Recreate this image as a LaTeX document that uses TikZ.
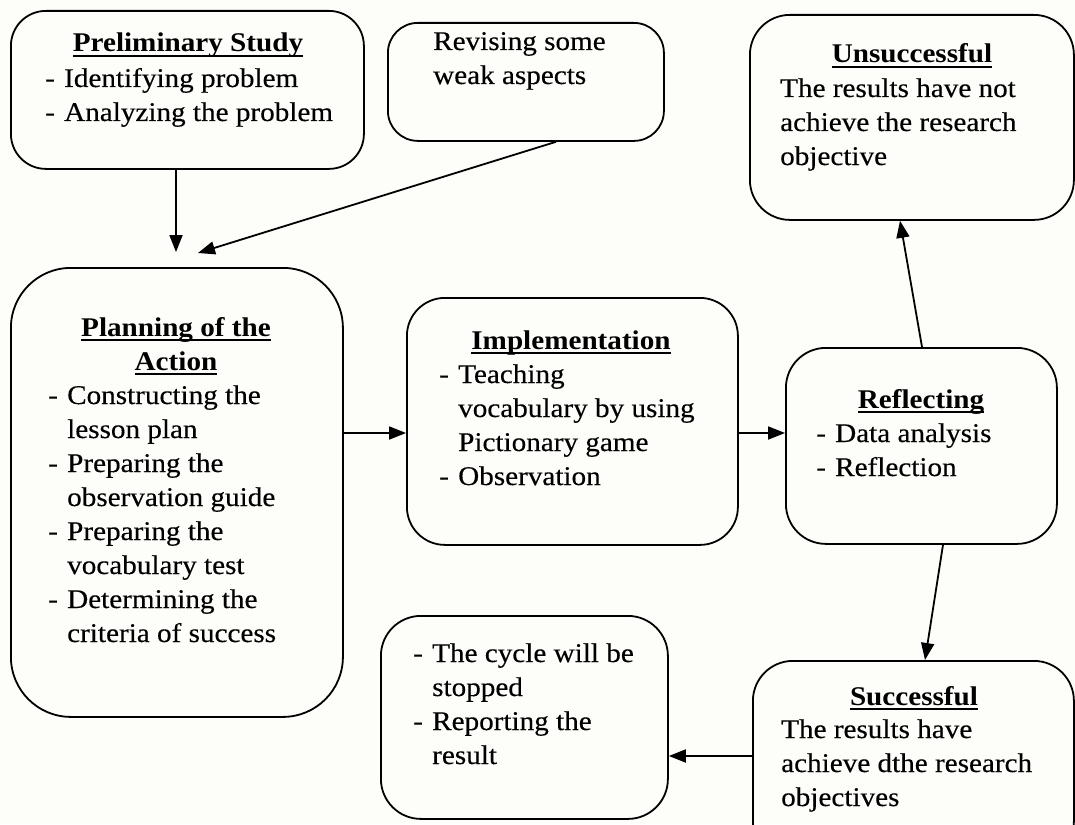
\documentclass[tikz,border=0pt]{standalone}
\usepackage{fontspec}
\setmainfont{Liberation Serif}[FakeStretch=1.08, UprightFeatures={FakeBold=0.3}]
\usetikzlibrary{arrows.meta}
\newcommand{\ttl}[1]{\setbox0\hbox{\bfseries #1}\rlap{\rule[-5pt]{\wd0}{1.8pt}}\box0}
\newcommand{\itm}{\makebox[19pt][l]{-}}
\newcommand{\cnt}{\hspace*{19pt}}
\definecolor{bgc}{RGB}{253,253,249}
\begin{document}
\begin{tikzpicture}[x=1pt,y=-1pt,
  box/.style={draw, line width=1.8pt, rounded corners=#1, inner sep=0pt, anchor=north west},
  box/.default=35pt,
  txt/.style={inner sep=0pt, font=\fontsize{27}{34}\selectfont},
  arr/.style={line width=1.8pt, -{Triangle[length=17pt,width=13pt]}}]
\useasboundingbox (0,0) rectangle (1075,824);
\fill[bgc] (0,0) rectangle (1075,824);

% boxes
\node[box=35pt, minimum width=353pt, minimum height=158pt] (prelim) at (10,10) {};
\node[box=30pt, minimum width=276pt, minimum height=118pt] (revise) at (387,22) {};
\node[box=40pt, minimum width=324pt, minimum height=205pt] (unsucc) at (749,14) {};
\node[box=60pt, minimum width=332pt, minimum height=449pt] (plan) at (10,267) {};
\node[box=38pt, minimum width=331pt, minimum height=247pt] (impl) at (406,297) {};
\node[box=40pt, minimum width=271pt, minimum height=196pt] (refl) at (785,347) {};
\node[box=40pt, minimum width=287pt, minimum height=203pt] (cycle) at (380,615) {};
\node[box=40pt, minimum width=321pt, minimum height=200pt] (succ) at (752,660) {};

% texts
\node[txt, anchor=base] (prelimH) at (188,52) {\ttl{Preliminary Study}};
\node[txt, anchor=base west] (prelimL) at (45,87) {\begin{tabular}[t]{@{}l@{}}\itm Identifying problem\\ \itm Analyzing the problem\end{tabular}};

\node[txt, anchor=base west] (reviseT) at (433,50) {\begin{tabular}[t]{@{}l@{}}Revising some\\ weak aspects\end{tabular}};

\node[txt, anchor=base] (unsuccH) at (912,63) {\ttl{Unsuccessful}};
\node[txt, anchor=base west] (unsuccT) at (780,97) {\begin{tabular}[t]{@{}l@{}}The results have not\\ achieve the research\\ objective\end{tabular}};

\node[txt, anchor=base] (planH) at (176,336) {\begin{tabular}[t]{@{}c@{}}\ttl{Planning of the}\\ \ttl{Action}\end{tabular}};
\node[txt, anchor=base west] (planL) at (48,404) {\begin{tabular}[t]{@{}l@{}}\itm Constructing the\\ \cnt lesson plan\\ \itm Preparing the\\ \cnt observation guide\\ \itm Preparing the\\ \cnt vocabulary test\\ \itm Determining the\\ \cnt criteria of success\end{tabular}};

\node[txt, anchor=base] (implH) at (571,349) {\ttl{Implementation}};
\node[txt, anchor=base west] (implL) at (439,383) {\begin{tabular}[t]{@{}l@{}}\itm Teaching\\ \cnt vocabulary by using\\ \cnt Pictionary game\\ \itm Observation\end{tabular}};

\node[txt, anchor=base] (reflH) at (921,408) {\ttl{Reflecting}};
\node[txt, anchor=base west] (reflL) at (816,442) {\begin{tabular}[t]{@{}l@{}}\itm Data analysis\\ \itm Reflection\end{tabular}};

\node[txt, anchor=base west] (cycleL) at (413,662) {\begin{tabular}[t]{@{}l@{}}\itm The cycle will be\\ \cnt stopped\\ \itm Reporting the\\ \cnt result\end{tabular}};

\node[txt, anchor=base] (succH) at (914,705) {\ttl{Successful}};
\node[txt, anchor=base west] (succT) at (781,738) {\begin{tabular}[t]{@{}l@{}}The results have\\ achieve dthe research\\ objectives\end{tabular}};

% helper coordinates
\coordinate (a1) at (176,252);
\coordinate (r1) at (556,0);
\coordinate (a2) at (198,253);
\coordinate (ya) at (0,433);
\coordinate (u1) at (922,0);
\coordinate (u2) at (900,0);
\coordinate (s1) at (943,0);
\coordinate (s2) at (925,0);
\coordinate (yb) at (0,756);

% connectors
\draw[arr] (prelim.south -| a1) -- (a1);
\draw[arr] (revise.south -| r1) -- (a2);
\draw[arr] (plan.east |- ya) -- (impl.west |- ya);
\draw[arr] (impl.east |- ya) -- (refl.west |- ya);
\draw[arr] (refl.north -| u1) -- (unsucc.south -| u2);
\draw[arr] (refl.south -| s1) -- (succ.north -| s2);
\draw[arr] (succ.west |- yb) -- (cycle.east |- yb);
\end{tikzpicture}
\end{document}
